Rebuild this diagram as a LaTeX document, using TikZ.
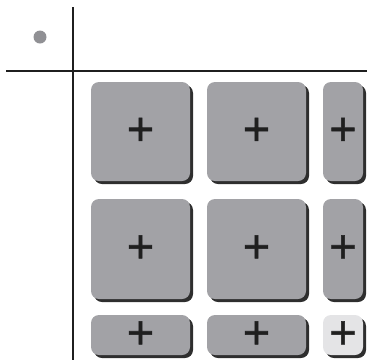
\documentclass[tikz,border=0pt]{standalone}
\usepackage{fontspec}
\setmainfont{Liberation Sans}
\newfontfamily\plusfont[FakeBold=1.2]{Liberation Sans}
\usetikzlibrary{shadows}
\definecolor{keygray}{HTML}{A2A2A6}
\definecolor{keylight}{HTML}{E4E4E6}
\definecolor{shade}{HTML}{2E2E2E}
\definecolor{dotgray}{HTML}{909094}
\begin{document}
\begin{tikzpicture}[x=1pt,y=-1pt,
  key/.style={draw=none, fill=keygray, rounded corners=8pt, inner sep=0pt,
    general shadow={shadow xshift=3pt, shadow yshift=-3pt, fill=shade, rounded corners=8pt},
    font=\plusfont\fontsize{47}{47}\selectfont, text=black!88},
  lightkey/.style={key, fill=keylight},
  rule/.style={line width=2.2pt, draw=black!88}]
\useasboundingbox (0,0) rectangle (367,360);
\coordinate (vt) at (73,7);
\coordinate (vb) at (73,360);
\coordinate (hl) at (6,71);
\coordinate (hr) at (367,71);
\draw[rule] (vt) -- (vb);
\draw[rule] (hl) -- (hr);
\node[circle, fill=dotgray, minimum size=13pt, inner sep=0pt] (dot) at (40,37) {};
% row 1
\node[key, minimum width=99pt, minimum height=99pt] (k11) at (140.5,131.5) {+};
\node[key, minimum width=99pt, minimum height=99pt] (k12) at (256.5,131.5) {+};
\node[key, minimum width=40pt, minimum height=99pt] (k13) at (343,131.5) {+};
% row 2
\node[key, minimum width=99pt, minimum height=100pt] (k21) at (140.5,249) {+};
\node[key, minimum width=99pt, minimum height=100pt] (k22) at (256.5,249) {+};
\node[key, minimum width=40pt, minimum height=100pt] (k23) at (343,249) {+};
% row 3
\node[key, minimum width=99pt, minimum height=40pt] (k31) at (140.5,335) {+};
\node[key, minimum width=99pt, minimum height=40pt] (k32) at (256.5,335) {+};
\node[lightkey, minimum width=40pt, minimum height=40pt] (k33) at (343,335) {+};
\end{tikzpicture}
\end{document}
